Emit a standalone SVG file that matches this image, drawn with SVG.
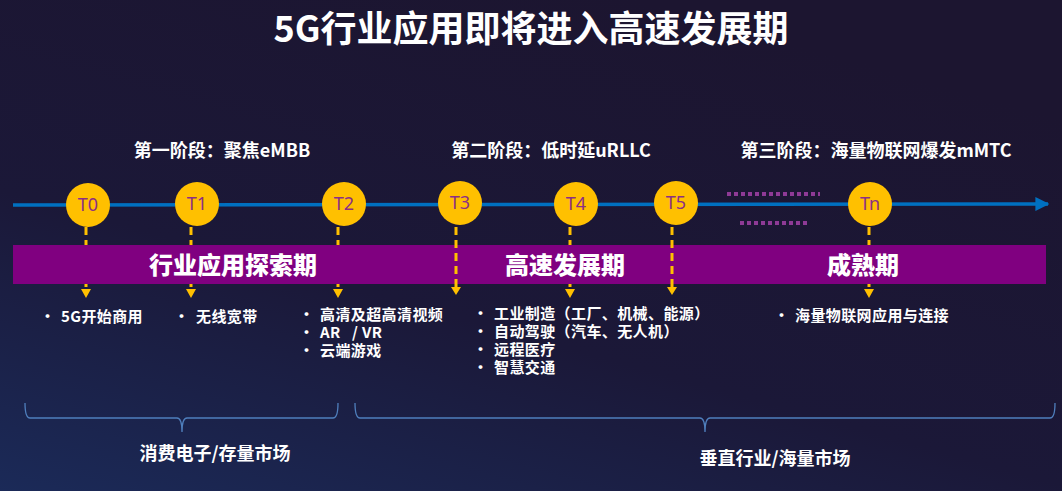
<svg xmlns="http://www.w3.org/2000/svg" width="1062" height="491" viewBox="0 0 1062 491">
<defs>
<linearGradient id="bg" x1="0" y1="1" x2="0.6" y2="0">
<stop offset="0" stop-color="#1b2a58"/>
<stop offset="0.45" stop-color="#1b1838"/>
<stop offset="1" stop-color="#1c1530"/>
</linearGradient>
<marker id="ba" viewBox="0 0 10 10" refX="9" refY="5" markerWidth="4" markerHeight="4" orient="auto" markerUnits="strokeWidth">
<path d="M0,0 L10,5 L0,10 Z" fill="#0070c0"/>
</marker>
<style>
.t{font-family:"Noto Sans CJK SC","Noto Sans",sans-serif;fill:#fff;font-weight:bold}
.ph{font-size:18px;text-anchor:middle}
.bar{font-size:24px;text-anchor:middle;font-weight:900}
.li{font-size:15px;font-weight:bold;letter-spacing:0.4px}
.ell{fill:#ffc000}
.tl{font-family:"Noto Sans","Liberation Sans",sans-serif;font-size:18px;fill:#8b2f86;text-anchor:middle}
.dash{stroke:#ffc000;stroke-width:3;stroke-dasharray:8,5;fill:none}
.dot{stroke:#8e3a96;stroke-width:4;stroke-dasharray:4,3}
.br{fill:none;stroke:#4f7fbd;stroke-width:1.3}
</style>
</defs>
<rect width="1062" height="491" fill="url(#bg)"/>
<text class="t" x="531" y="42" font-size="36" font-weight="900" text-anchor="middle">5G行业应用即将进入高速发展期</text>
<text class="t ph" x="222" y="157">第一阶段：聚焦eMBB</text>
<text class="t ph" x="551" y="157">第二阶段：低时延uRLLC</text>
<text class="t ph" x="876" y="157">第三阶段：海量物联网爆发mMTC</text>
<g id="connectors">
<line x1="13" y1="205" x2="1048" y2="204" stroke="#0070c0" stroke-width="3.5" marker-end="url(#ba)"/>
<line class="dot" x1="727" y1="194" x2="820" y2="194"/>
<line class="dot" x1="740" y1="223" x2="808" y2="223"/>
<line class="dash" x1="86" y1="227" x2="86" y2="293"/>
<line class="dash" x1="191" y1="227" x2="191" y2="293"/>
<line class="dash" x1="338" y1="227" x2="338" y2="293"/>
<line class="dash" x1="570" y1="227" x2="570" y2="293"/>
<line class="dash" x1="869" y1="227" x2="869" y2="293"/>
</g>
<rect id="band" x="13" y="245" width="1033" height="39" fill="#800080"/>
<g id="connectors2">
<line class="dash" x1="456" y1="227" x2="456" y2="290"/>
<line class="dash" x1="672" y1="227" x2="672" y2="290"/>
</g>
<path d="M81,289 L91,289 L86,298 Z M186,289 L196,289 L191,298 Z M333,289 L343,289 L338,298 Z M565,289 L575,289 L570,298 Z M864,289 L874,289 L869,298 Z M451,287 L461,287 L456,295 Z M667,287 L677,287 L672,295 Z" fill="#ffc000"/>
<text class="t bar" x="233" y="274">行业应用探索期</text>
<text class="t bar" x="565" y="274">高速发展期</text>
<text class="t bar" x="863" y="274">成熟期</text>
<g id="T0"><ellipse class="ell" cx="88" cy="205" rx="22" ry="22"/><text class="tl" x="88" y="211">T0</text></g>
<g id="T1"><ellipse class="ell" cx="197" cy="204" rx="22" ry="22"/><text class="tl" x="197" y="210">T1</text></g>
<g id="T2"><ellipse class="ell" cx="344" cy="204" rx="22" ry="22"/><text class="tl" x="344" y="210">T2</text></g>
<g id="T3"><ellipse class="ell" cx="460" cy="203" rx="22" ry="22"/><text class="tl" x="460" y="209">T3</text></g>
<g id="T4"><ellipse class="ell" cx="576" cy="204" rx="22" ry="22"/><text class="tl" x="576" y="210">T4</text></g>
<g id="T5"><ellipse class="ell" cx="676" cy="203" rx="22" ry="22"/><text class="tl" x="676" y="209">T5</text></g>
<g id="Tn"><ellipse class="ell" cx="870" cy="204" rx="22" ry="22"/><text class="tl" x="870" y="210">Tn</text></g>
<g id="list0" class="t li"><text x="40" y="322">•</text><text x="61" y="322">5G开始商用</text></g>
<g id="list1" class="t li"><text x="174" y="322">•</text><text x="196" y="322">无线宽带</text></g>
<g id="list2" class="t li"><text x="299" y="320">•</text><text x="320" y="320">高清及超高清视频</text>
<text x="299" y="338">•</text><text x="320" y="338" xml:space="preserve">AR   / VR</text>
<text x="299" y="356">•</text><text x="320" y="356">云端游戏</text></g>
<g id="list3" class="t li"><text x="473" y="319">•</text><text x="494" y="319">工业制造（工厂、机械、能源）</text>
<text x="473" y="337">•</text><text x="494" y="337">自动驾驶（汽车、无人机）</text>
<text x="473" y="355">•</text><text x="494" y="355">远程医疗</text>
<text x="473" y="373">•</text><text x="494" y="373">智慧交通</text></g>
<g id="listn" class="t li"><text x="774" y="321">•</text><text x="795" y="321">海量物联网应用与连接</text></g>
<g id="brace1"><path class="br" d="M25,403 Q25,418 30,418 L177,418 Q182,418 182,432 Q182,418 187,418 L333,418 Q338,418 338,403"/>
<text class="t" x="215" y="460" font-size="18" font-weight="900" text-anchor="middle">消费电子/存量市场</text></g>
<g id="brace2"><path class="br" d="M355,403 Q355,418 360,418 L700,418 Q705,418 705,432 Q705,418 710,418 L1050,418 Q1055,418 1055,403"/>
<text class="t" x="775" y="465" font-size="18" font-weight="900" text-anchor="middle">垂直行业/海量市场</text></g>
</svg>
